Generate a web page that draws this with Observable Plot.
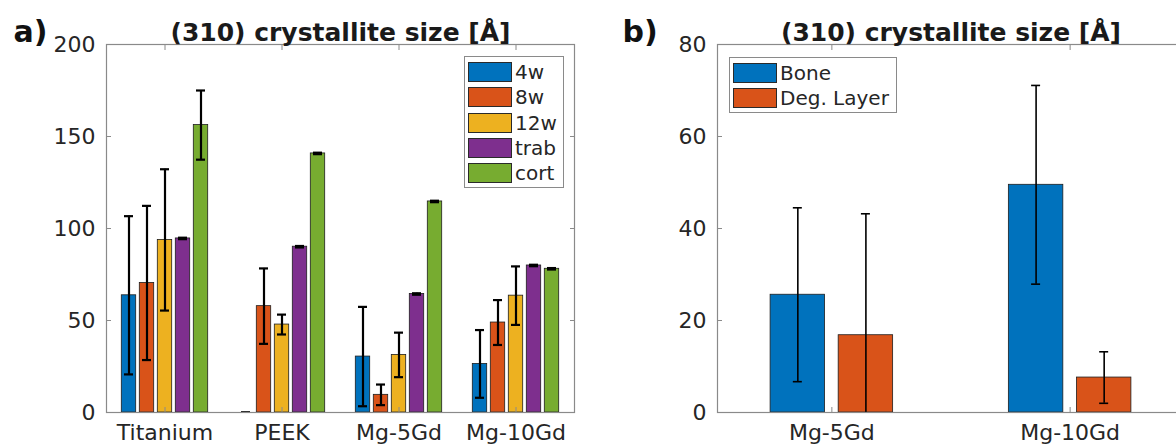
<!DOCTYPE html>
<html><head><meta charset="utf-8">
<script src="https://cdn.jsdelivr.net/npm/d3@7"></script>
<script src="https://cdn.jsdelivr.net/npm/@observablehq/plot@0.6"></script>
<style>
html,body{margin:0;padding:0;background:#fff;overflow:hidden;}
#fig{position:relative;width:1176px;height:446px;overflow:hidden;font-family:"DejaVu Sans";}
.panel{position:absolute;top:0;max-width:none !important;}
.legend{position:absolute;background:#fff;border:1.2px solid #8a8a8a;box-sizing:border-box;}
.row{position:absolute;left:3px;height:20px;display:flex;align-items:center;white-space:nowrap;}
.sw{width:44px;height:20px;box-sizing:border-box;border:1px solid #2a2a2a;}
.lab{margin-left:3px;font-size:20px;color:#262626;}
</style></head><body><div id="fig"></div>
<script>
// ---- Panel a data ----
const titleText = "(310) crystallite size [Å]";
const categoriesA = ["Titanium", "PEEK", "Mg-5Gd", "Mg-10Gd"];
const seriesA = ["4w", "8w", "12w", "trab", "cort"];
const colorsA = ["#0072BD", "#D95319", "#EDB120", "#7E2F8E", "#77AC30"];
const w4 = [63.7, 0, 30.4, 26.4];
const w4Err = [43.0, 0, 27.0, 18.4];
const w8 = [70.4, 57.8, 9.6, 48.9];
const w8Err = [41.9, 20.5, 5.6, 12.2];
const w12 = [93.8, 47.8, 31.3, 63.5];
const w12Err = [38.4, 5.4, 12.1, 15.9];
const trab = [94.6, 90.1, 64.4, 79.9];
const trabErr = [0.4, 0.4, 0.4, 0.4];
const cort = [156.2, 140.8, 114.7, 78.1];
const cortErr = [18.8, 0.4, 0.4, 0.4];
const yTicksA = [0, 50, 100, 150, 200];

// ---- Panel b data ----
const categoriesB = ["Mg-5Gd", "Mg-10Gd"];
const seriesB = ["Bone", "Deg. Layer"];
const colorsB = ["#0072BD", "#D95319"];
const bone = [25.6, 49.5];
const boneErr = [18.9, 21.6];
const degLayer = [16.8, 7.6];
const degLayerErr = [26.4, 5.6];
const yTicksB = [0, 20, 40, 60, 80];

// MATLAB-style grouped bar layout
function groupedRows(categories, series, values, errors) {
  const n = series.length;
  const groupWidth = Math.min(0.8, n / (n + 1.5));
  const step = groupWidth / n;
  const barWidth = 0.8 * step;
  const rows = [];
  categories.forEach((c, i) => series.forEach((s, j) => {
    const center = (i + 1) + (j - (n - 1) / 2) * step;
    rows.push({category: c, series: s, value: values[j][i], error: errors[j][i],
      center, x1: center - barWidth / 2, x2: center + barWidth / 2});
  }));
  return rows;
}

function panel(o) {
  const rows = groupedRows(o.cats, o.series, o.vals, o.errs);
  const pxPerUnit = (o.width - o.ml - o.mr) / (o.xDomain[1] - o.xDomain[0]);
  const capHalf = o.capPx / 2 / pxPerUnit;
  const ticksX = o.cats.map((_, i) => i + 1);
  const gray = "#8a8a8a";
  return Plot.plot({
    width: o.width, height: 446,
    marginLeft: o.ml, marginRight: o.mr, marginTop: 44, marginBottom: 34,
    style: {fontFamily: "DejaVu Sans", fontSize: "22px", color: "#262626", background: "transparent", overflow: "visible", maxWidth: "none"},
    x: {domain: o.xDomain, axis: null},
    y: {domain: [0, o.yMax], axis: null},
    color: {domain: o.series, range: o.colors},
    marks: [
      Plot.rectY(rows, {x1: "x1", x2: "x2", y1: 0, y2: "value", fill: "series", stroke: "#1e1e1e", strokeWidth: 0.8}),
      Plot.ruleX(rows, {x: "center", y1: d => d.value - d.error, y2: d => d.value + d.error, stroke: "#000", strokeWidth: o.errWidth, clip: true}),
      Plot.ruleY(rows, {y: d => d.value + d.error, x1: d => d.center - capHalf, x2: d => d.center + capHalf, stroke: "#000", strokeWidth: o.errWidth, clip: true}),
      Plot.ruleY(rows, {y: d => d.value - d.error, x1: d => d.center - capHalf, x2: d => d.center + capHalf, stroke: "#000", strokeWidth: o.errWidth, clip: true}),
      Plot.frame({stroke: gray, strokeWidth: 1.2}),
      Plot.axisY({ticks: o.yTicks, tickSize: 0, tickPadding: 11, tickFormat: "d", label: null}),
      Plot.axisY({ticks: o.yTicks, tickSize: -5, tickFormat: () => "", label: null, stroke: gray}),
      Plot.axisY({anchor: "right", ticks: o.yTicks, tickSize: -5, tickFormat: () => "", label: null, stroke: gray}),
      Plot.axisX({ticks: ticksX, tickSize: 0, tickPadding: 12, tickFormat: i => o.cats[i - 1], label: null}),
      Plot.axisX({ticks: ticksX, tickSize: -5, tickFormat: () => "", label: null, stroke: gray}),
      Plot.axisX({anchor: "top", ticks: ticksX, tickSize: -5, tickFormat: () => "", label: null, stroke: gray}),
      Plot.text([titleText], {frameAnchor: "top", dy: -4, lineAnchor: "bottom", fontWeight: "bold", fontSize: 25, fill: "#1a1a1a"}),
      Plot.text([o.label], {frameAnchor: "top-left", dx: -(o.ml - o.labelX), dy: -3, lineAnchor: "bottom", textAnchor: "start", fontWeight: "bold", fontSize: 30, fill: "#111"})
    ]
  });
}

function legend(series, colors, left, top, width, height) {
  const div = document.createElement("div");
  div.className = "legend";
  Object.assign(div.style, {left: left + "px", top: top + "px", width: width + "px", height: height + "px"});
  series.forEach((s, i) => {
    const r = document.createElement("div");
    r.className = "row";
    r.style.top = (5 + 25.3 * i) + "px";
    r.innerHTML = `<div class="sw" style="background:${colors[i]}"></div><span class="lab">${s}</span>`;
    div.appendChild(r);
  });
  return div;
}

const fig = document.getElementById("fig");
const pa = panel({cats: categoriesA, series: seriesA, colors: colorsA,
  vals: [w4, w8, w12, trab, cort], errs: [w4Err, w8Err, w12Err, trabErr, cortErr],
  yMax: 200, yTicks: yTicksA, xDomain: [0.5, 4.5], width: 590, ml: 106, mr: 16,
  errWidth: 2.2, capPx: 9, label: "a)", labelX: 13});
pa.classList.add("panel"); pa.style.left = "0px";
fig.appendChild(pa);

// Panel b's right border lies just beyond the visible area (cropped like the original)
const pb = panel({cats: categoriesB, series: seriesB, colors: colorsB,
  vals: [bone, degLayer], errs: [boneErr, degLayerErr],
  yMax: 80, yTicks: yTicksB, xDomain: [0.52, 2.48], width: 586, ml: 127, mr: -8,
  errWidth: 1.6, capPx: 9, label: "b)", labelX: 32});
pb.classList.add("panel"); pb.style.left = "590px";
fig.appendChild(pb);

fig.appendChild(legend(seriesA, colorsA, 464, 56, 100, 132));
fig.appendChild(legend(seriesB, colorsB, 729, 57, 168, 56));
</script></body></html>
